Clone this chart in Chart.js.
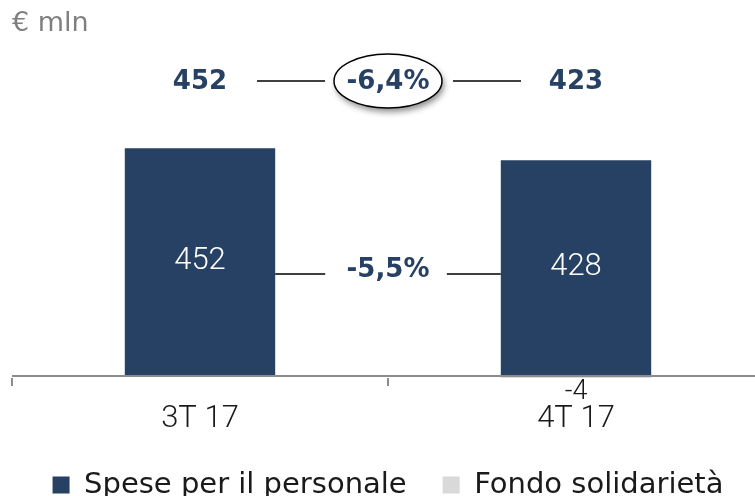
<!DOCTYPE html>
<html lang="it">
<head>
<meta charset="utf-8">
<title>Spese per il personale</title>
<script src="https://cdn.jsdelivr.net/npm/chart.js@4.4.1/dist/chart.umd.min.js"></script>
<style>
  html, body { margin: 0; padding: 0; background: #fff; overflow: hidden; }
  .chart-box { position: relative; width: 764px; height: 496px; }
</style>
</head>
<body>
<div class="chart-box"><canvas id="costChart"></canvas></div>
<script>
var categories = ["3T 17", "4T 17"];
var seriesNames = ["Spese per il personale", "Fondo solidarietà"];
var spese = [452, 428];
var fondo = [0, -4];
var totals = [452, 423];
var totalChange = "-6,4%";
var speseChange = "-5,5%";

(function () {
  "use strict";

  var NAVY = "#264163";
  var INK = "#1a1a1a";
  var AXIS = "#8c8c8c";

  var canvas = document.getElementById("costChart");
  if (!canvas || typeof Chart === "undefined") return;

  // labels, connectors and the oval that sit on top of the bars
  var annotations = {
    id: "annotations",
    afterDatasetsDraw: function (chart) {
      var ctx = chart.ctx;
      var bars = chart.getDatasetMeta(0).data;
      var negs = chart.getDatasetMeta(1).data;
      if (bars.length < 2) return;
      var y0 = chart.scales.y.getPixelForValue(0);
      var topY = y0 - 295;
      var midY = y0 - 102;
      var cx = (bars[0].x + bars[1].x) / 2;
      var rx = 54, ry = 27;

      ctx.save();
      ctx.textAlign = "center";
      ctx.textBaseline = "middle";

      ctx.font = "300 31px Roboto";
      ctx.fillStyle = "#ffffff";
      bars.forEach(function (b, i) {
        ctx.fillText(String(spese[i]), b.x, (b.y + b.base) / 2);
      });

      ctx.font = "300 27px Roboto";
      ctx.fillStyle = INK;
      negs.forEach(function (b, i) {
        if (!fondo[i]) return;
        ctx.fillText(String(fondo[i]), b.x, Math.max(b.y, b.base) + 14);
      });

      var r0 = bars[0].x + bars[0].width / 2;
      var l1 = bars[1].x - bars[1].width / 2;
      ctx.strokeStyle = "#000";
      ctx.lineWidth = 1.5;
      ctx.beginPath();
      ctx.moveTo(cx - rx - 77, topY);
      ctx.lineTo(cx - rx - 9, topY);
      ctx.moveTo(cx + rx + 11, topY);
      ctx.lineTo(cx + rx + 79, topY);
      ctx.moveTo(r0, midY);
      ctx.lineTo(r0 + 50, midY);
      ctx.moveTo(l1 - 54, midY);
      ctx.lineTo(l1, midY);
      ctx.stroke();

      ctx.save();
      ctx.shadowColor = "rgba(0,0,0,0.45)";
      ctx.shadowBlur = 6;
      ctx.shadowOffsetX = 2;
      ctx.shadowOffsetY = 4;
      ctx.beginPath();
      ctx.ellipse(cx, topY, rx, ry, 0, 0, Math.PI * 2);
      ctx.fillStyle = "#ffffff";
      ctx.fill();
      ctx.restore();
      ctx.beginPath();
      ctx.ellipse(cx, topY, rx, ry, 0, 0, Math.PI * 2);
      ctx.stroke();

      ctx.font = "bold 26px 'DejaVu Sans'";
      ctx.fillStyle = NAVY;
      ctx.fillText(totalChange, cx, topY + 1);
      ctx.fillText(speseChange, cx, midY - 4);
      bars.forEach(function (b, i) {
        ctx.fillText(String(totals[i]), b.x, topY + 1);
      });
      ctx.restore();
    }
  };

  new Chart(canvas.getContext("2d"), {
    type: "bar",
    data: {
      labels: categories,
      datasets: [
        {
          label: seriesNames[0],
          data: spese,
          backgroundColor: NAVY,
          borderWidth: 0,
          barPercentage: 0.4,
          categoryPercentage: 1,
        },
        {
          label: seriesNames[1],
          data: fondo,
          backgroundColor: "#d9d9d9",
          borderWidth: 0,
          barPercentage: 0.4,
          categoryPercentage: 1,
        },
      ],
    },
    options: {
      responsive: true,
      maintainAspectRatio: false,
      animation: false,
      layout: { padding: { left: 12, right: 0, top: 0, bottom: 0 } },
      scales: {
        x: {
          stacked: true,
          border: { display: false },
          grid: { offset: true, drawOnChartArea: false, tickLength: 8, color: AXIS, lineWidth: 2 },
          ticks: { color: INK, padding: 15, font: { family: "Roboto", size: 31, weight: "300", lineHeight: 1.2 } },
          afterFit: function (scale) { scale.height = 56.5; },
        },
        y: {
          stacked: true,
          min: -4,
          max: 660,
          border: { display: false },
          grid: { drawTicks: false, color: AXIS, lineWidth: 2 },
          ticks: { display: false },
          afterBuildTicks: function (scale) { scale.ticks = [{ value: 0 }]; },
        },
      },
      plugins: {
        title: {
          display: true,
          text: "€ mln",
          align: "start",
          color: "#7f7f7f",
          font: { family: "DejaVu Sans", size: 27, weight: "normal", lineHeight: 1.2 },
          padding: { top: 8, bottom: 3 },
        },
        legend: {
          position: "bottom",
          maxHeight: 61.5,
          labels: {
            boxWidth: 17,
            boxHeight: 17,
            padding: 36,
            color: INK,
            font: { family: "DejaVu Sans", size: 29 },
          },
        },
        tooltip: { enabled: false },
      },
    },
    plugins: [annotations],
  });
})();
</script>
</body>
</html>
